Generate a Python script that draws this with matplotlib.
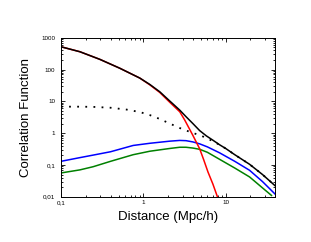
import numpy as np
import matplotlib
matplotlib.use("Agg")
import matplotlib.pyplot as plt
from matplotlib.ticker import FuncFormatter, LogLocator, NullFormatter

plt.rcParams['font.family'] = ['Liberation Sans', 'DejaVu Sans']

# values
r_total = [0.1, 0.17, 0.297, 0.518, 0.906, 1.2, 1.585, 2.1, 2.77, 3.3, 4.0, 4.84, 5.83, 7.0, 8.45, 10.0, 12.9, 19.5, 28.0, 40.0]
xi_total = [521, 363, 209, 110, 54, 34, 20, 10.2, 5.3, 3.3, 2.0, 1.2, 0.82, 0.6, 0.43, 0.33, 0.21, 0.105, 0.05, 0.022]

r_1h = [0.1, 0.17, 0.297, 0.518, 0.906, 1.2, 1.585, 2.1, 2.77, 3.18, 4.0, 4.84, 5.4, 6.1, 7.0, 7.94]
xi_1h = [521, 363, 209, 110, 54, 33, 19, 9.3, 4.7, 2.6, 0.85, 0.32, 0.148, 0.06, 0.025, 0.01]

r_2h = [0.1, 0.17, 0.245, 0.4, 0.63, 0.91, 1.2, 1.58, 2.1, 2.77, 3.66, 5.1, 6.3, 8.45, 10.0, 12.9, 19.5, 28.0, 40.0]
xi_2h = [6.8, 6.8, 6.7, 6.3, 5.5, 4.6, 3.7, 2.8, 2.0, 1.45, 1.1, 0.82, 0.64, 0.43, 0.33, 0.21, 0.105, 0.05, 0.022]

r_blue = [0.1, 0.17, 0.246, 0.4, 0.753, 1.2, 2.1, 2.77, 3.3, 4.0, 4.84, 6.0, 8.45, 12.9, 19.5, 28.0, 40.0]
xi_blue = [0.13, 0.17, 0.204, 0.26, 0.41, 0.48, 0.56, 0.59, 0.58, 0.53, 0.46, 0.37, 0.24, 0.13, 0.068, 0.03, 0.012]

r_green = [0.1, 0.17, 0.246, 0.4, 0.753, 1.2, 2.1, 2.77, 3.3, 4.0, 4.84, 6.0, 8.45, 12.9, 19.5, 28.0, 36.0]
xi_green = [0.056, 0.07, 0.088, 0.13, 0.21, 0.27, 0.33, 0.36, 0.36, 0.34, 0.31, 0.25, 0.15, 0.08, 0.042, 0.019, 0.011]

def comma(v, pos):
    return ('%g' % v).replace('.', ',')

fig = plt.figure(figsize=(3.11, 2.42), dpi=100)
ax = fig.add_axes([0.196, 0.187, 0.689, 0.657])

ax.plot(r_2h, xi_2h, color='black', lw=1.3, linestyle=(0, (1, 3.5)))
ax.plot(r_green, xi_green, color='#008000', lw=1.1)
ax.plot(r_blue, xi_blue, color='#0000ff', lw=1.1)
ax.plot(r_1h, xi_1h, color='#ff0000', lw=1.1)
ax.plot(r_total, xi_total, color='black', lw=1.1)

ax.set_xscale('log')
ax.set_yscale('log')
ax.set_xlim(0.1, 40)
ax.set_ylim(0.01, 1000)

ax.xaxis.set_major_locator(LogLocator(base=10, numticks=10))
ax.yaxis.set_major_locator(LogLocator(base=10, numticks=10))
ax.xaxis.set_minor_locator(LogLocator(base=10, subs=np.arange(2, 10), numticks=20))
ax.yaxis.set_minor_locator(LogLocator(base=10, subs=np.arange(2, 10), numticks=20))
ax.xaxis.set_major_formatter(FuncFormatter(comma))
ax.yaxis.set_major_formatter(FuncFormatter(comma))
ax.xaxis.set_minor_formatter(NullFormatter())
ax.yaxis.set_minor_formatter(NullFormatter())

ax.tick_params(which='both', direction='in', top=True, right=True, width=0.6, labelsize=4.5)
ax.tick_params(axis='x', pad=2.5)
ax.tick_params(axis='y', pad=4)
ax.tick_params(which='major', length=3)
ax.tick_params(which='minor', length=1.6)
for s in ax.spines.values():
    s.set_linewidth(0.7)

ax.set_xlabel('Distance (Mpc/h)', fontsize=9.5, labelpad=4.5)
ax.set_ylabel('Correlation Function', fontsize=9.5, labelpad=7)

plt.savefig('out.png', dpi=100)
